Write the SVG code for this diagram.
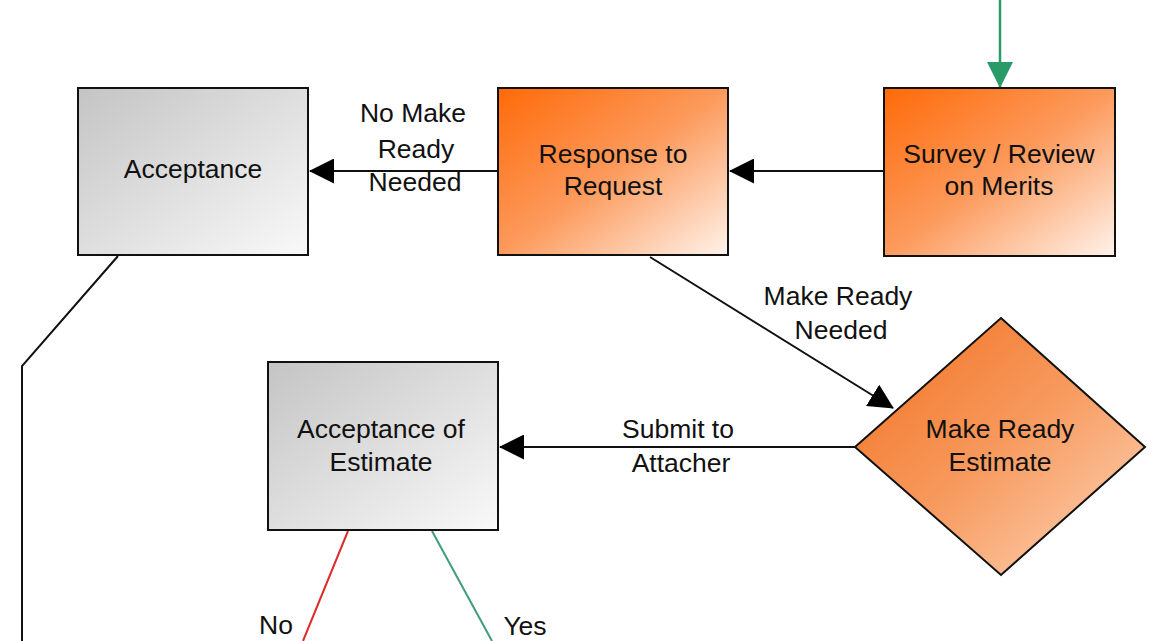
<svg xmlns="http://www.w3.org/2000/svg" width="1155" height="641" viewBox="0 0 1155 641">
  <style>
    .box { stroke: #111; stroke-width: 2; }
    .t { font-family: "Liberation Sans", Arial, sans-serif; font-size: 26.5px; fill: #111; text-anchor: middle; }
    .conn { fill: none; stroke: #111; stroke-width: 2; }
  </style>
  <defs>
    <linearGradient id="gOrange" x1="0" y1="0" x2="1" y2="1">
      <stop offset="0" stop-color="#ff6a08"/>
      <stop offset="0.5" stop-color="#fc9a5c"/>
      <stop offset="1" stop-color="#fff3eb"/>
    </linearGradient>
    <linearGradient id="gDiamond" x1="0" y1="0" x2="1" y2="1">
      <stop offset="0" stop-color="#f26f1e"/>
      <stop offset="0.5" stop-color="#f79a5e"/>
      <stop offset="1" stop-color="#fdd8bd"/>
    </linearGradient>
    <linearGradient id="gGrey" x1="0" y1="0" x2="1" y2="1">
      <stop offset="0" stop-color="#c4c4c4"/>
      <stop offset="1" stop-color="#f9f9f9"/>
    </linearGradient>
    <marker id="ah" viewBox="0 0 25 25" refX="24" refY="12.5" markerWidth="25" markerHeight="25" markerUnits="userSpaceOnUse" orient="auto">
      <path d="M0,0 L25,12.5 L0,25 z" fill="#000"/>
    </marker>
    <marker id="ahg" viewBox="0 0 26 26" refX="25" refY="13" markerWidth="26" markerHeight="26" markerUnits="userSpaceOnUse" orient="auto">
      <path d="M0,0 L26,13 L0,26 z" fill="#2a9a68"/>
    </marker>
  </defs>
  <rect width="1155" height="641" fill="#fff"/>

  <g id="connectors">
    <line x1="1000" y1="0" x2="1000" y2="87" stroke="#2a9a68" stroke-width="2.5" marker-end="url(#ahg)"/>
    <line class="conn" x1="884" y1="171" x2="730" y2="171" marker-end="url(#ah)"/>
    <line class="conn" x1="498" y1="171" x2="310" y2="171" marker-end="url(#ah)"/>
    <line class="conn" x1="650" y1="257" x2="893" y2="408" marker-end="url(#ah)"/>
    <line class="conn" x1="855" y1="447" x2="500" y2="447" marker-end="url(#ah)"/>
    <polyline class="conn" points="118,256 22,366 22,641"/>
    <line x1="348" y1="531" x2="303" y2="641" stroke="#e02a2a" stroke-width="2"/>
    <line x1="432" y1="531" x2="492" y2="641" stroke="#3f9c7c" stroke-width="2"/>
    <g id="labels">
      <text class="t" x="413" y="122">No Make</text>
      <text class="t" x="416" y="158">Ready</text>
      <text class="t" x="415" y="191">Needed</text>
      <text class="t" x="838" y="305">Make Ready</text>
      <text class="t" x="841" y="339">Needed</text>
      <text class="t" x="678" y="438">Submit to</text>
      <text class="t" x="681" y="472">Attacher</text>
      <text class="t" x="276" y="634">No</text>
      <text class="t" x="525" y="635">Yes</text>
    </g>
  </g>

  <g id="acceptance">
    <rect class="box" x="78" y="88" width="230" height="167" fill="url(#gGrey)"/>
    <text class="t" x="193" y="178">Acceptance</text>
  </g>
  <g id="response">
    <rect class="box" x="498" y="88" width="230" height="167" fill="url(#gOrange)"/>
    <text class="t" x="613" y="163">Response to</text>
    <text class="t" x="613" y="195">Request</text>
  </g>
  <g id="survey">
    <rect class="box" x="884" y="88" width="231" height="168" fill="url(#gOrange)"/>
    <text class="t" x="999" y="163">Survey / Review</text>
    <text class="t" x="999" y="195">on Merits</text>
  </g>
  <g id="estimate">
    <polygon class="box" stroke-width="1.6" points="1001,318 1145,447 1001,575 855,447" fill="url(#gDiamond)"/>
    <text class="t" x="1000" y="438">Make Ready</text>
    <text class="t" x="1000" y="471">Estimate</text>
  </g>
  <g id="acceptance-estimate">
    <rect class="box" x="268" y="362" width="230" height="168" fill="url(#gGrey)"/>
    <text class="t" x="381" y="438">Acceptance of</text>
    <text class="t" x="381" y="471">Estimate</text>
  </g>
</svg>
